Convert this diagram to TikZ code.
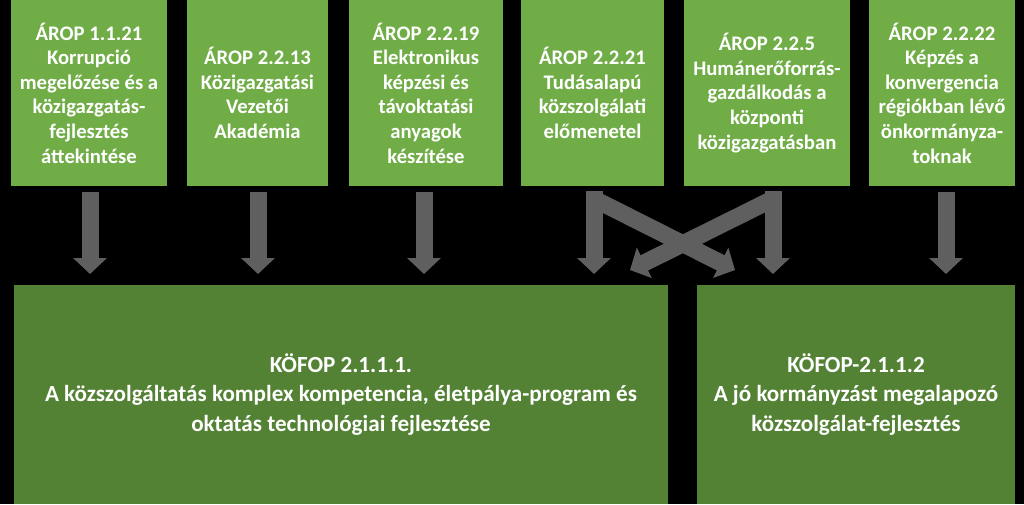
\documentclass[tikz,border=0pt]{standalone}
\usepackage{fontspec}
\setmainfont{Carlito}
\usetikzlibrary{arrows.meta,calc}
\definecolor{lightgreen}{HTML}{70AD47}
\definecolor{darkgreen}{HTML}{548235}
\definecolor{arrowgray}{HTML}{5F5F5F}
\begin{document}
\begin{tikzpicture}[x=1pt,y=-1pt,
  topbox/.style={fill=lightgreen,inner sep=0pt,outer sep=0pt,minimum height=186pt,
    text=white,align=center,font=\fontsize{20.7}{24.6}\selectfont\bfseries},
  botbox/.style={fill=darkgreen,inner sep=0pt,outer sep=0pt,minimum height=219pt,
    text=white,align=center,font=\fontsize{23.1}{29.5}\selectfont\bfseries},
  bigarrow/.style={draw=arrowgray,line width=17pt,
    -{Triangle[width=33pt,length=16pt,fill=arrowgray]}}]
\fill[black] (0,0) rectangle (1024,504);
\useasboundingbox (0,0) rectangle (1024,504);

\node[topbox,minimum width=156pt] (t1) at (89,93)
  {ÁROP 1.1.21\\Korrupció\\megelőzése és a\\közigazgatás-\\fejlesztés\\áttekintése};
\node[topbox,minimum width=141pt] (t2) at (257.5,93)
  {ÁROP 2.2.13\\Közigazgatási\\Vezetői\\Akadémia};
\node[topbox,minimum width=154pt] (t3) at (426,93)
  {ÁROP 2.2.19\\Elektronikus\\képzési és\\távoktatási\\anyagok\\készítése};
\node[topbox,minimum width=143pt] (t4) at (592.5,93)
  {ÁROP 2.2.21\\Tudásalapú\\közszolgálati\\előmenetel};
\node[topbox,minimum width=166pt] (t5) at (767,93)
  {ÁROP 2.2.5\\Humánerőforrás-\\gazdálkodás a\\központi\\közigazgatásban};
\node[topbox,minimum width=146pt] (t6) at (942,93)
  {ÁROP 2.2.22\\Képzés a\\konvergencia\\régiókban lévő\\önkormányza-\\toknak};

\node[botbox,minimum width=654pt] (A) at (341,394.5)
  {KÖFOP 2.1.1.1.\\A közszolgáltatás komplex kompetencia, életpálya-program és\\oktatás technológiai fejlesztése};
\node[botbox,minimum width=318pt] (B) at (856,394.5)
  {KÖFOP-2.1.1.2\\A jó kormányzást megalapozó\\közszolgálat-fejlesztés};

\draw[bigarrow] ($(t1.south)+(1,6)$) -- ($(t1.south |- A.north)+(1,-11)$);
\draw[bigarrow] ($(t2.south)+(0.5,6)$) -- ($(t2.south |- A.north)+(0.5,-11)$);
\draw[bigarrow] ($(t3.south)+(-2,6)$) -- ($(t3.south |- A.north)+(-2,-11)$);
\draw[bigarrow] ($(t4.south)+(1.5,5)$) -- ($(t4.south |- A.north)+(1.5,-11)$);
\draw[bigarrow] ($(t5.south)+(6,5)$) -- ($(t5.south |- B.north)+(6,-11)$);
\draw[bigarrow] ($(t6.south)+(4,6)$) -- ($(t6.south |- B.north)+(4,-11)$);
\draw[bigarrow] ($(t4.south)+(1.5,13)$) -- ($(B.north west)+(38,-15)$);
\draw[bigarrow] ($(t5.south)+(6,13)$) -- ($(A.north east)+(-38,-15)$);
\end{tikzpicture}
\end{document}
